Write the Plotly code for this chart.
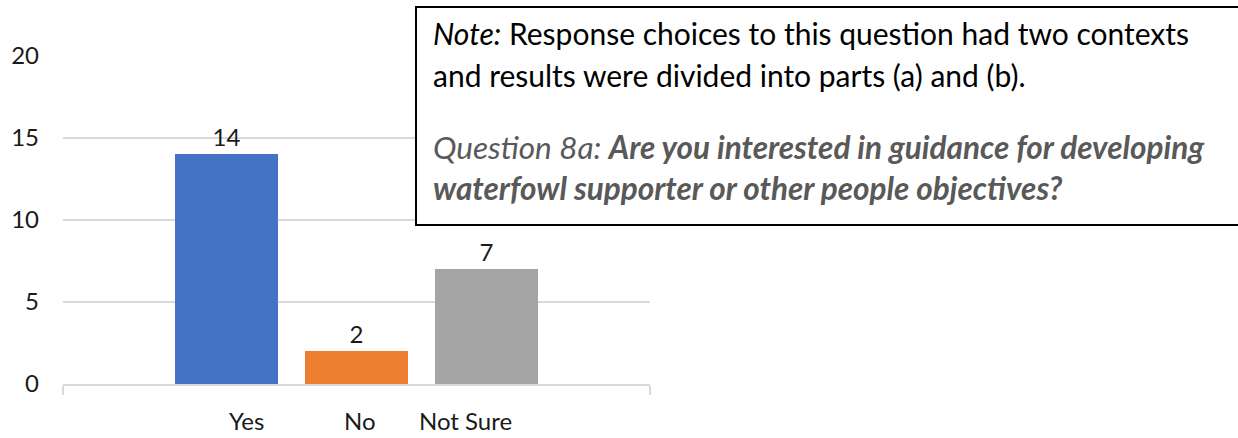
import plotly.graph_objects as go

# Survey responses
categories = ["Yes", "No", "Not Sure"]
counts = [14, 2, 7]
bar_colors = ["#4472C4", "#ED7D31", "#A5A5A5"]
y_ticks = [0, 5, 10, 15, 20]

W, H = 1238, 438
L, R, T, B = 63, 650, 56, 384  # plot area in pixels

FONT = "Lato"
TXT = "#1a1a1a"
AXIS_SIZE = 24
NOTE_SIZE = 30
QUESTION_SIZE = 31.5

x_pos = list(range(len(categories)))
# bar centres are 130 px apart; the axis spans the plot area beyond them
unit = 130.0
x0_data = (L - 226.5) / unit
x1_data = x0_data + (R - L) / unit


def px_x(p):
    return (p - L) / (R - L)


def px_y(p):
    return (B - p) / (B - T)


fig = go.Figure()
fig.add_trace(go.Bar(
    x=x_pos,
    y=counts,
    width=0.79,
    marker=dict(color=bar_colors, line=dict(width=0)),
    text=[str(v) for v in counts],
    textposition="outside",
    textfont=dict(family=FONT, size=AXIS_SIZE, color=TXT),
    cliponaxis=False,
    hoverinfo="skip",
))

# category labels under the axis
label_shift = [20, 3, -21]
for xi, name, dx in zip(x_pos, categories, label_shift):
    fig.add_annotation(
        x=xi, y=0, xref="x", yref="y", text=name, showarrow=False,
        xshift=dx, yshift=-36, font=dict(family=FONT, size=AXIS_SIZE, color=TXT),
        xanchor="center", yanchor="middle",
    )

# note box
fig.add_shape(
    type="rect", xref="paper", yref="paper",
    x0=px_x(416), x1=px_x(1250), y0=px_y(225), y1=px_y(7),
    line=dict(color="#000000", width=2), fillcolor="#ffffff", layer="above",
)

note_lines = [
    ("<i>Note:</i> Response choices to this question had two contexts", 33, "#000000", NOTE_SIZE),
    ("and results were divided into parts (a) and (b).", 75, "#000000", NOTE_SIZE),
    ("<i>Question 8a: </i><b><i>Are you interested in guidance for developing</i></b>", 147, "#595959", QUESTION_SIZE),
    ("<b><i>waterfowl supporter or other people objectives?</i></b>", 188, "#595959", QUESTION_SIZE),
]
for text, ypix, col, size in note_lines:
    fig.add_annotation(
        x=px_x(431), y=px_y(ypix), xref="paper", yref="paper", text=text,
        showarrow=False, xanchor="left", yanchor="middle", align="left",
        font=dict(family=FONT, size=size, color=col),
    )

fig.update_layout(
    width=W, height=H,
    margin=dict(l=L, r=W - R, t=T, b=H - B, pad=0, autoexpand=False),
    paper_bgcolor="#ffffff", plot_bgcolor="#ffffff",
    showlegend=False,
    bargap=0,
)
fig.update_xaxes(
    range=[x0_data, x1_data],
    tickvals=[x0_data, x1_data], ticktext=["", ""],
    ticks="outside", ticklen=9, tickwidth=2, tickcolor="#d9d9d9",
    showline=True, linecolor="#d9d9d9", linewidth=2,
    showgrid=False, zeroline=False, fixedrange=True, automargin=False,
)
fig.update_yaxes(
    range=[0, 20], tickvals=y_ticks,
    showgrid=True, gridcolor="#d9d9d9", gridwidth=2,
    zeroline=False, showline=False, ticks="",
    tickfont=dict(family=FONT, size=AXIS_SIZE, color=TXT),
    ticklabelstandoff=23, fixedrange=True, automargin=False,
)

fig.write_html("out.html", config={"displayModeBar": False})
